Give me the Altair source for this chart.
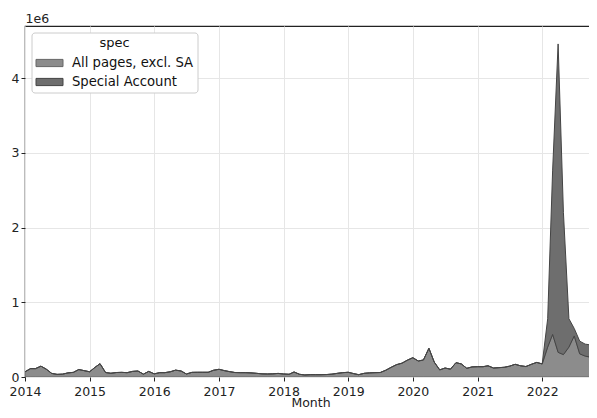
import altair as alt
import pandas as pd

# monthly periods, 2014-01 .. 2022-11
months = pd.date_range("2014-01-01", periods=107, freq="MS").strftime("%Y-%m-%d").tolist()

series = ["All pages, excl. SA", "Special Account"]

# thousands of views per month
all_pages_k = [
    70, 112, 112, 145, 105, 48, 35, 38, 55, 62, 100, 85,        # 2014
    70, 130, 178, 60, 50, 60, 62, 58, 75, 80, 38, 75,           # 2015
    42, 58, 58, 70, 92, 80, 40, 62, 63, 63, 63, 90,             # 2016
    103, 85, 72, 60, 58, 58, 55, 49, 42, 40, 42, 48,            # 2017
    40, 36, 67, 36, 27, 31, 31, 31, 33, 38, 49, 58,             # 2018
    63, 45, 31, 49, 55, 58, 60, 90, 130, 165, 185, 225,         # 2019
    258, 214, 228, 384, 200, 95, 120, 105, 192, 175, 116, 135,  # 2020
    138, 138, 150, 120, 125, 130, 145, 170, 150, 140, 170, 195, # 2021
    175, 400, 570, 330, 300, 400, 550, 310, 280, 265, 270,      # 2022
]
special_k = [
    0, 0, 0, 0, 0, 0, 0, 0, 0, 0, 0, 0,
    0, 0, 0, 0, 0, 0, 0, 0, 0, 0, 0, 0,
    0, 0, 0, 0, 0, 0, 0, 0, 0, 0, 0, 0,
    0, 0, 0, 0, 0, 0, 0, 0, 0, 0, 0, 0,
    0, 0, 0, 0, 0, 0, 0, 0, 0, 0, 0, 0,
    0, 0, 0, 0, 0, 0, 0, 0, 0, 0, 0, 0,
    0, 0, 0, 0, 0, 0, 0, 0, 0, 0, 0, 0,
    0, 0, 0, 0, 0, 0, 0, 0, 0, 0, 0, 0,
    0, 380, 2200, 4130, 1900, 380, 100, 170, 160, 165, 70,
]

rows = []
for i, m in enumerate(months):
    rows.append({"Month": m, "spec": series[0], "ord": 0, "views": all_pages_k[i] * 1000})
    rows.append({"Month": m, "spec": series[1], "ord": 1, "views": special_k[i] * 1000})
df = pd.DataFrame(rows)

FONT = "DejaVu Sans"
year_ticks = [alt.DateTime(year=y, month=1, date=1, utc=True) for y in range(2014, 2023)]

chart = alt.Chart(df).mark_area(strokeWidth=1, clip=True, opacity=1).encode(
    x=alt.X(
        "Month:T",
        scale=alt.Scale(
            type="utc",
            domain=[alt.DateTime(year=2014, month=1, date=1, utc=True),
                    alt.DateTime(year=2022, month=11, date=1, utc=True)],
        ),
        axis=alt.Axis(values=year_ticks, format="%Y", title="Month",
                      labelPadding=4, titleY=29.5, titleBaseline="alphabetic",
                      labelFlush=False),
    ),
    y=alt.Y(
        "views:Q",
        stack="zero",
        scale=alt.Scale(domain=[0, 4700000], nice=False),
        axis=alt.Axis(values=[0, 1000000, 2000000, 3000000, 4000000],
                      labelExpr="format(datum.value / 1000000, 'd')",
                      title="1e6", titleAngle=0, titleX=0, titleY=-4,
                      titleAlign="left", titleBaseline="alphabetic",
                      labelPadding=2),
    ),
    fill=alt.Fill(
        "spec:N",
        scale=alt.Scale(domain=series, range=["#8c8c8c", "#6e6e6e"]),
        legend=alt.Legend(
            title="spec", orient="none", legendX=6.5, legendY=6.5,
            fillColor="white", strokeColor="#cccccc", cornerRadius=3, padding=4,
            titleAnchor="middle", titleFontSize=13, titleFontWeight="normal",
            titleColor="#111111", titleFont=FONT, titlePadding=4,
            labelFont=FONT, labelFontSize=13.2, labelColor="#111111",
            symbolType="M-1.5,-0.4L1.5,-0.4L1.5,0.4L-1.5,0.4Z", symbolSize=324,
            symbolOffset=4.5, labelOffset=13, rowPadding=3,
            symbolStrokeColor="#5a5a5a", symbolStrokeWidth=1, symbolOpacity=1,
        ),
    ),
    stroke=alt.Stroke(
        "spec:N",
        scale=alt.Scale(domain=series, range=["#666666", "#444444"]),
        legend=None,
    ),
    order=alt.Order("ord:Q", sort="ascending"),
).properties(
    width=571,
    height=351,
    autosize=alt.AutoSizeParams(type="none"),
    padding={"left": 17, "top": 18, "right": -7, "bottom": 33},
).configure_view(
    stroke="#222222", strokeWidth=1.2
).configure_axis(
    labelFont=FONT, labelFontSize=12.5, labelColor="#222222",
    titleFont=FONT, titleFontSize=12.5, titleFontWeight="normal", titleColor="#222222",
    tickColor="#222222", tickSize=4, tickWidth=1,
    domain=False, gridColor="#e6e6e6", gridWidth=1,
)

chart.save("out.html", embed_options={"renderer": "svg", "actions": False})
